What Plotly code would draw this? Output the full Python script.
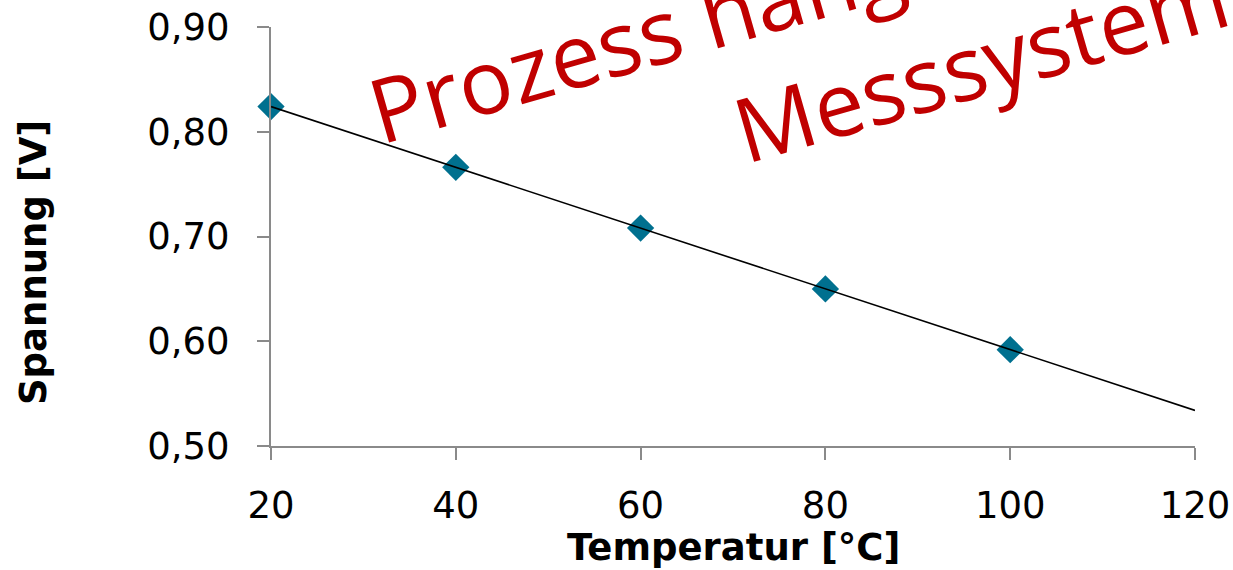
import numpy as np
import plotly.graph_objects as go

# Messwerte: Temperatur [°C] und Spannung [V]
temperatur = [20, 40, 60, 80, 100]
spannung = [0.824, 0.766, 0.708, 0.650, 0.592]

x_ticks = [20, 40, 60, 80, 100, 120]
y_ticks = [0.50, 0.60, 0.70, 0.80, 0.90]

# linearer Trend über den gesamten Achsenbereich
slope, intercept = np.polyfit(temperatur, spannung, 1)
trend_x = [x_ticks[0], x_ticks[-1]]
trend_y = [slope * t + intercept for t in trend_x]

FONT = "DejaVu Sans"
STAMP_FONT = "Open Sans"
AXIS_GREY = "#8a8a8a"

fig = go.Figure()
fig.add_trace(go.Scatter(
    x=temperatur, y=spannung, mode="markers",
    marker=dict(symbol="diamond", size=21, color="#00708f"),
    cliponaxis=False, showlegend=False,
))
fig.add_trace(go.Scatter(
    x=trend_x, y=trend_y, mode="lines",
    line=dict(color="black", width=1.6),
    cliponaxis=False, showlegend=False,
))

fig.update_layout(
    width=1233, height=570,
    margin=dict(l=271, r=38, t=27, b=124, autoexpand=False),
    paper_bgcolor="white", plot_bgcolor="white",
    separators=",.",
    font=dict(family=FONT, size=37, color="black"),
    xaxis=dict(
        range=[20, 120], tickvals=x_ticks, showgrid=False, zeroline=False,
        automargin=False,
        showline=True, linecolor=AXIS_GREY, linewidth=2,
        ticks="outside", ticklen=12, tickwidth=2, tickcolor=AXIS_GREY,
        ticklabelstandoff=14, tickfont=dict(size=37),
    ),
    yaxis=dict(
        range=[0.5, 0.9], tickvals=y_ticks, tickformat=".2f",
        showgrid=False, zeroline=False, automargin=False,
        showline=True, linecolor=AXIS_GREY, linewidth=2,
        ticks="outside", ticklen=12, tickwidth=2, tickcolor=AXIS_GREY,
        ticklabelstandoff=20, tickfont=dict(size=37),
    ),
    annotations=[
        dict(text="<b>Temperatur [°C]</b>", xref="paper", yref="paper",
             x=0.5, y=-0.2434, showarrow=False, xanchor="center", yanchor="middle",
             font=dict(size=37)),
        dict(text="<b>Spannung [V]</b>", xref="paper", yref="paper",
             x=-0.2576, y=0.439, showarrow=False, xanchor="center", yanchor="middle",
             textangle=-90, font=dict(size=37)),
        dict(text="Prozess hängt vom", xref="paper", yref="paper",
             x=0.517, y=1.057, showarrow=False, xanchor="center", yanchor="middle",
             textangle=-16, font=dict(family=STAMP_FONT, size=89, color="#c00000")),
        dict(text="Messsystem ab", xref="paper", yref="paper",
             x=0.834, y=0.961, showarrow=False, xanchor="center", yanchor="middle",
             textangle=-16, font=dict(family=STAMP_FONT, size=89, color="#c00000")),
    ],
)

fig.write_html("out.html")
